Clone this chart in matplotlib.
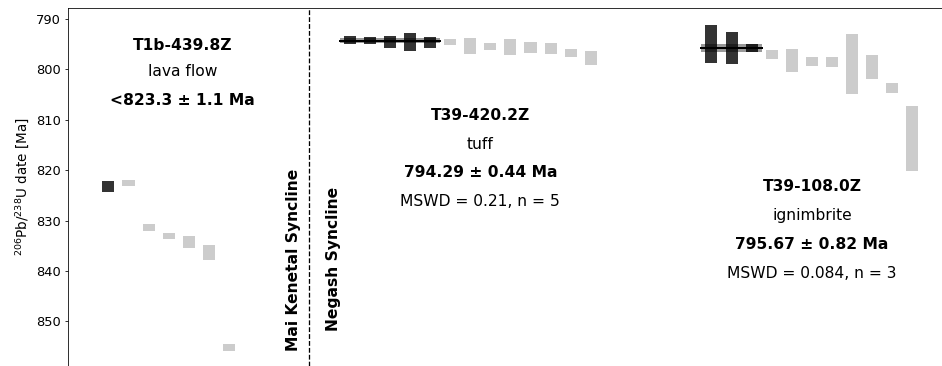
import matplotlib
matplotlib.use("Agg")
import matplotlib.pyplot as plt

# Left group: T1b-439.8Z
left_x = [0, 1, 2, 3, 4, 5, 6]
left_val = [823.3, 822.55, 831.35, 833.05, 834.3, 836.3, 855.2]
left_err = [1.1, 0.65, 0.65, 0.65, 1.2, 1.5, 0.7]
left_used = [True, False, False, False, False, False, False]

# Middle group: T39-420.2Z
mid_x = list(range(12, 25))
mid_val = [794.2, 794.25, 794.55, 794.55, 794.65, 794.6, 795.35, 795.45, 795.55, 795.65,
           795.85, 796.8, 797.7]
mid_err = [0.8, 0.7, 1.25, 1.75, 1.15, 0.6, 1.65, 0.75, 1.55, 1.15, 1.05, 0.8, 1.4]
mid_used = [True] * 5 + [False] * 8

# Right group: T39-108.0Z
right_x = list(range(30, 41))
right_val = [794.95, 795.75, 795.7, 797.1, 798.3, 798.4, 798.5, 798.95, 799.45, 803.7, 813.75]
right_err = [3.85, 3.25, 0.8, 0.9, 2.3, 0.9, 1.0, 5.95, 2.35, 1.0, 6.45]
right_used = [True] * 3 + [False] * 8

# Weighted means
mid_mean, mid_mean_err = 794.29, 0.44
right_mean, right_mean_err = 795.67, 0.82

yticks = [790, 800, 810, 820, 830, 840, 850]

DARK = "#333333"
LIGHT = "#cccccc"

fig = plt.figure(figsize=(942 / 72, 366 / 72), dpi=72)
ax = fig.add_axes([68 / 942, 0.0, 874 / 942, 1 - 8 / 366])

for xs, vals, errs, used in [(left_x, left_val, left_err, left_used),
                             (mid_x, mid_val, mid_err, mid_used),
                             (right_x, right_val, right_err, right_used)]:
    for x, v, e, u in zip(xs, vals, errs, used):
        ax.bar(x, 2 * e, bottom=v - e, width=0.6, color=DARK if u else LIGHT,
               linewidth=0, zorder=2)

# weighted mean bands
for x0, x1, m, me in [(mid_x[0] - 0.5, mid_x[4] + 0.5, mid_mean, mid_mean_err),
                      (right_x[0] - 0.5, right_x[2] + 0.5, right_mean, right_mean_err)]:
    ax.fill_between([x0, x1], m - me, m + me, color="black", alpha=0.4, linewidth=0, zorder=3)
    ax.plot([x0, x1], [m, m], color="black", linewidth=2, zorder=4)

ax.axvline(10, color="black", linestyle="--", linewidth=1.3, zorder=1)

ax.text(9.2, 837.7, "Mai Kenetal Syncline", rotation=90, ha="center", va="center",
        fontsize=15.5, fontweight="bold")
ax.text(11.2, 837.7, "Negash Syncline", rotation=90, ha="center", va="center",
        fontsize=15.5, fontweight="bold")

def block(x, ys, lines):
    for y, (t, bold) in zip(ys, lines):
        ax.text(x, y, t, ha="center", va="center", fontsize=15.5,
                fontweight="bold" if bold else "normal")

block(3.7, [795.2, 800.5, 806.1],
      [("T1b-439.8Z", True), ("lava flow", False), ("<823.3 ± 1.1 Ma", True)])
block(18.5, [809.2, 814.8, 820.5, 826.2],
      [("T39-420.2Z", True), ("tuff", False), ("794.29 ± 0.44 Ma", True),
       ("MSWD = 0.21, n = 5", False)])
block(35.0, [823.3, 829.0, 834.8, 840.5],
      [("T39-108.0Z", True), ("ignimbrite", False), ("795.67 ± 0.82 Ma", True),
       ("MSWD = 0.084, n = 3", False)])

ax.set_xlim(-2.01, 41.47)
ax.set_ylim(858.85, 787.8)
ax.set_yticks(yticks)
ax.tick_params(axis="y", labelsize=13)
ax.set_xticks([])
ax.spines["right"].set_visible(False)
ax.spines["bottom"].set_visible(False)
ax.set_ylabel("$^{206}$Pb/$^{238}$U date [Ma]", fontsize=13.5, labelpad=5)

fig.savefig("out.png", dpi=72)
